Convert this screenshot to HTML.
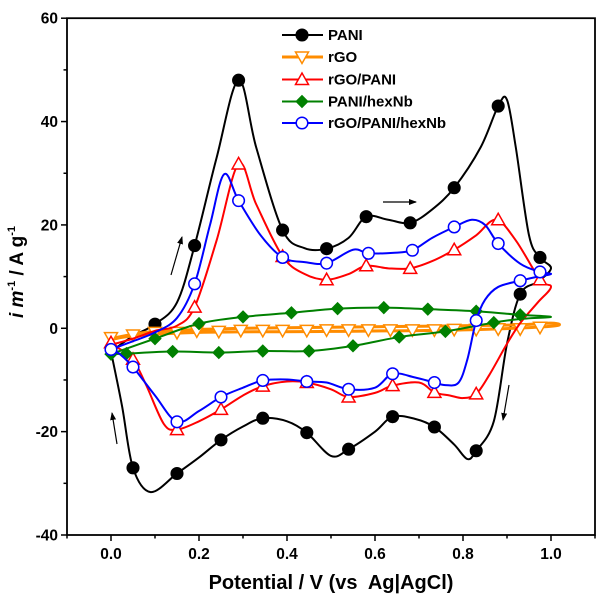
<!DOCTYPE html>
<html><head><meta charset="utf-8">
<style>
html,body{margin:0;padding:0;background:#fff;}
svg{display:block;font-family:"Liberation Sans",Arial,sans-serif;}
</style></head>
<body>
<svg id="chart" width="608" height="608" viewBox="0 0 608 608">
<defs>
<marker id="ah" markerWidth="8" markerHeight="8" refX="7" refY="4" orient="auto" markerUnits="userSpaceOnUse">
<path d="M0,1 L8,4 L0,7 Z" fill="#000"/></marker>
</defs>
<g id="axes"></g>
<g id="series"></g>
<g id="legend"></g>
<g id="arrows">
<line x1="171" y1="275" x2="182" y2="237" stroke="#000" stroke-width="1.2" marker-end="url(#ah)"/>
<line x1="383" y1="202" x2="416" y2="202" stroke="#000" stroke-width="1.2" marker-end="url(#ah)"/>
<line x1="509" y1="385" x2="503" y2="420" stroke="#000" stroke-width="1.2" marker-end="url(#ah)"/>
<line x1="117" y1="444" x2="112" y2="413" stroke="#000" stroke-width="1.2" marker-end="url(#ah)"/>
</g>
<text x="331" y="589" text-anchor="middle" font-size="20" font-weight="bold" xml:space="preserve">Potential / V (vs  Ag|AgCl)</text>
<text transform="translate(23,272) rotate(-90)" text-anchor="middle" font-size="19" font-weight="bold"><tspan font-style="italic">i m</tspan><tspan font-size="11" dy="-8">-1</tspan><tspan dy="8"> / A g</tspan><tspan font-size="11" dy="-8">-1</tspan></text>
</svg>
<script>
// ---- data ----
const xTicks = [0.0, 0.2, 0.4, 0.6, 0.8, 1.0];
const xTickLabels = ["0.0", "0.2", "0.4", "0.6", "0.8", "1.0"];
const yTicks = [-40, -20, 0, 20, 40, 60];
const yTickLabels = ["-40", "-20", "0", "20", "40", "60"];

const seriesNames = ["PANI", "rGO", "rGO/PANI", "PANI/hexNb", "rGO/PANI/hexNb"];

const paniX = [0,0.05,0.1,0.15,0.19,0.24,0.29,0.33,0.39,0.44,0.49,0.54,0.58,0.63,0.68,0.73,0.78,0.84,0.88,0.9,0.92,0.95,0.975,1.0,
  0.97,0.93,0.9,0.87,0.83,0.81,0.78,0.735,0.69,0.64,0.6,0.54,0.5,0.445,0.4,0.345,0.3,0.25,0.2,0.15,0.09,0.05,0.025,0];
const paniY = [-4.5,-1.5,0.8,5,16,33,48,35,19,15.5,15.4,17.5,21.6,21,20.4,23,27.2,35,43,44.2,35,18,13.7,11.6,
  9,6.6,-3,-18,-23.7,-25.3,-22.5,-19.1,-17.5,-17.1,-20,-23.4,-24.7,-20.2,-18,-17.4,-19,-21.6,-25,-28.1,-31.7,-27,-15,-4.5];
const paniMX = [0.1,0.19,0.29,0.39,0.49,0.58,0.68,0.78,0.88,0.975,0.93,0.83,0.735,0.64,0.54,0.445,0.345,0.25,0.15,0.05];
const paniMY = [0.8,16,48,19,15.4,21.6,20.4,27.2,43,13.7,6.6,-23.7,-19.1,-17.1,-23.4,-20.2,-17.4,-21.6,-28.1,-27];

const rgoX = [0,0.1,0.3,0.6,0.9,1.0,1.0,0.8,0.5,0.2,0.05,0];
const rgoY = [-2,-0.6,0,0.3,0.6,1.0,0.4,-0.3,-0.6,-0.8,-1.5,-2.2];
const rgoMX = [0,0.05,0.1,0.15,0.195,0.245,0.295,0.345,0.39,0.445,0.49,0.54,0.585,0.635,0.685,0.735,0.78,0.83,0.88,0.93,0.975];
const rgoMY = [-1.8,-1.3,-0.8,-0.8,-0.5,-0.6,-0.4,-0.4,-0.4,-0.4,-0.3,-0.3,-0.3,-0.3,-0.3,-0.3,-0.2,-0.2,-0.1,-0.1,0.2];

const rpX = [0,0.05,0.1,0.15,0.19,0.24,0.29,0.33,0.39,0.44,0.49,0.54,0.58,0.63,0.68,0.73,0.78,0.83,0.875,0.92,0.975,1.0,
  0.97,0.93,0.9,0.86,0.83,0.8,0.77,0.735,0.7,0.64,0.6,0.54,0.5,0.445,0.4,0.345,0.3,0.25,0.2,0.15,0.12,0.08,0.05,0.02,0];
const rpY = [-3.2,-2,-0.5,0.5,4.1,17,31.8,24,13.9,10.5,9.4,10.5,12.1,11.6,11.6,13,15.2,18,21,17,9.4,8,
  5,1,-3,-9,-12.7,-13.5,-13,-12.4,-10.5,-11.1,-12.5,-13.3,-11.8,-10.5,-10.3,-11.2,-13,-15.7,-18,-19.6,-18.5,-11,-6,-4,-3.2];
const rpMX = [0,0.19,0.29,0.39,0.49,0.58,0.68,0.78,0.88,0.975,0.83,0.735,0.64,0.54,0.445,0.345,0.25,0.15,0.05];
const rpMY = [-2.8,4.1,31.8,13.9,9.4,12.1,11.6,15.2,21,9.4,-12.7,-12.4,-11.1,-13.3,-10.5,-11.2,-15.7,-19.6,-6];

const pnX = [0,0.1,0.2,0.3,0.41,0.515,0.62,0.72,0.83,0.93,1.0,0.93,0.87,0.76,0.655,0.55,0.45,0.345,0.245,0.14,0.035,0];
const pnY = [-5,-2,0.9,2.2,3,3.8,4,3.7,3.3,2.6,2.2,1.8,1.1,-0.6,-1.7,-3.4,-4.4,-4.4,-4.7,-4.5,-4.9,-5];
const pnMX = [0,0.1,0.2,0.3,0.41,0.515,0.62,0.72,0.83,0.93,0.87,0.76,0.655,0.55,0.45,0.345,0.245,0.14,0.035];
const pnMY = [-5,-2,0.9,2.2,3,3.8,4,3.7,3.3,2.6,1.1,-0.6,-1.7,-3.4,-4.4,-4.4,-4.7,-4.5,-4.9];

const rpnX = [0,0.05,0.1,0.15,0.19,0.225,0.257,0.29,0.34,0.39,0.44,0.49,0.55,0.585,0.64,0.685,0.73,0.78,0.82,0.85,0.88,0.93,0.975,1.0,
  0.97,0.93,0.88,0.85,0.83,0.81,0.79,0.76,0.735,0.69,0.64,0.6,0.54,0.49,0.445,0.4,0.345,0.3,0.25,0.2,0.15,0.1,0.05,0.02,0];
const rpnY = [-4.1,-2.5,-0.8,2,8.6,20,29.8,24.7,18,13.7,12.8,12.6,15.2,14.5,14.6,15.1,17.5,19.6,21,20,16.4,12.5,10.9,10.5,
  10,9.2,8,5.5,1.5,-6,-10.5,-11,-10.5,-9.5,-8.8,-11.5,-11.8,-10.5,-10.3,-9.9,-10.1,-11.5,-13.3,-16,-18.1,-13,-7.5,-5,-4.1];
const rpnMX = [0,0.19,0.29,0.39,0.49,0.585,0.685,0.78,0.88,0.975,0.93,0.83,0.735,0.64,0.54,0.445,0.345,0.25,0.15,0.05];
const rpnMY = [-4.1,8.6,24.7,13.7,12.6,14.5,15.1,19.6,16.4,10.9,9.2,1.5,-10.5,-8.8,-11.8,-10.3,-10.1,-13.3,-18.1,-7.5];

// ---- layout ----
const NS = "http://www.w3.org/2000/svg";
const X0 = 67, X1 = 595, Y0 = 18.2, Y1 = 535;
const xMin = -0.1, xMax = 1.1, yMin = -40, yMax = 60;
function sx(v){ return X0 + (v - xMin) / (xMax - xMin) * (X1 - X0); }
function sy(v){ return Y1 - (v - yMin) / (yMax - yMin) * (Y1 - Y0); }
function mk(tag, attrs, parent){
  const e = document.createElementNS(NS, tag);
  for (const k in attrs) e.setAttribute(k, attrs[k]);
  parent.appendChild(e);
  return e;
}
const axes = document.getElementById("axes");
const frame = mk("rect", {x:X0, y:Y0, width:X1-X0, height:Y1-Y0, fill:"none", stroke:"#000", "stroke-width":1.8}, axes);



for (let v = -0.1; v <= 1.1001; v += 0.1) {
  const major = xTicks.some(t => Math.abs(t - v) < 1e-6);
  const t = mk("line", {x1:sx(v), x2:sx(v), y1:Y1, y2:Y1 + (major ? 6 : 3.5), stroke:"#000", "stroke-width":1.5}, axes);
  
  
}
xTicks.forEach((v, i) => {
  const t = mk("text", {x:sx(v), y:559, "text-anchor":"middle", "font-size":15.5, "font-weight":"bold"}, axes);
  t.textContent = xTickLabels[i];
  
  
});
for (let v = -40; v <= 60; v += 10) {
  const major = yTicks.includes(v);
  const t = mk("line", {x1:X0 - (major ? 6 : 3.5), x2:X0, y1:sy(v), y2:sy(v), stroke:"#000", "stroke-width":1.5}, axes);
  
  
}
yTicks.forEach((v, i) => {
  const t = mk("text", {x:58, y:sy(v) + 5.5, "text-anchor":"end", "font-size":15.5, "font-weight":"bold"}, axes);
  t.textContent = yTickLabels[i];
  
  
});

function splinePath(xs, ys){
  const p = xs.map((x, i) => [sx(x), sy(ys[i])]);
  let d = "M" + p[0][0].toFixed(2) + "," + p[0][1].toFixed(2);
  for (let i = 0; i < p.length - 1; i++) {
    const p0 = p[Math.max(0, i-1)], p1 = p[i], p2 = p[i+1], p3 = p[Math.min(p.length-1, i+2)];
    const c1x = p1[0] + (p2[0]-p0[0])/6, c1y = p1[1] + (p2[1]-p0[1])/6;
    const c2x = p2[0] - (p3[0]-p1[0])/6, c2y = p2[1] - (p3[1]-p1[1])/6;
    d += " C" + c1x.toFixed(2)+","+c1y.toFixed(2)+" "+c2x.toFixed(2)+","+c2y.toFixed(2)+" "+p2[0].toFixed(2)+","+p2[1].toFixed(2);
  }
  return d;
}
function drawMarker(g, type, cx, cy, color){
  let e;
  if (type === "circle") e = mk("circle", {cx:cx, cy:cy, r:5.8, fill:color === "#000" ? "#000" : "#fff", stroke:color, "stroke-width":1.5}, g);
  else if (type === "tdown") e = mk("polygon", {points:`${cx-6.5},${cy-5} ${cx+6.5},${cy-5} ${cx},${cy+6.5}`, fill:"#fff", stroke:color, "stroke-width":1.5}, g);
  else if (type === "tup") e = mk("polygon", {points:`${cx-6.5},${cy+5} ${cx+6.5},${cy+5} ${cx},${cy-6.5}`, fill:"#fff", stroke:color, "stroke-width":1.5}, g);
  else e = mk("polygon", {points:`${cx},${cy-6} ${cx+6},${cy} ${cx},${cy+6} ${cx-6},${cy}`, fill:color, stroke:color, "stroke-width":1}, g);
  return e;
}
const defs = [
  {xs:paniX, ys:paniY, mx:paniMX, my:paniMY, color:"#000", type:"circle", w:2, key:"pani"},
  {xs:rgoX, ys:rgoY, mx:rgoMX, my:rgoMY, color:"#ff8c00", type:"tdown", w:3, key:"rgo"},
  {xs:rpX, ys:rpY, mx:rpMX, my:rpMY, color:"#ff0000", type:"tup", w:2, key:"rgo-pani"},
  {xs:pnX, ys:pnY, mx:pnMX, my:pnMY, color:"#008000", type:"diamond", w:2, key:"pani-hexnb"},
  {xs:rpnX, ys:rpnY, mx:rpnMX, my:rpnMY, color:"#0000ff", type:"circle", w:2, key:"rgo-pani-hexnb"}
];
const sg = document.getElementById("series");
defs.forEach(s => {
  const g = mk("g", {}, sg);
  
  
  const path = mk("path", {d:splinePath(s.xs, s.ys), fill:"none", stroke:s.color, "stroke-width":s.w, "stroke-linejoin":"round"}, g);
  
  
  s.mx.forEach((x, i) => {
    const m = drawMarker(g, s.type, sx(x), sy(s.my[i]), s.color);
    
    
  });
});
const lg = document.getElementById("legend");
const rows = [35, 57, 79.5, 101.5, 123];
defs.forEach((s, i) => {
  const g = mk("g", {}, lg);
  
  
  mk("line", {x1:282, x2:323, y1:rows[i], y2:rows[i], stroke:s.color, "stroke-width":s.w}, g);
  drawMarker(g, s.type, 302, rows[i], s.color);
  const t = mk("text", {x:328, y:rows[i] + 5, "font-size":15, "font-weight":"bold"}, g);
  t.textContent = seriesNames[i];
});
</script>
</body></html>
